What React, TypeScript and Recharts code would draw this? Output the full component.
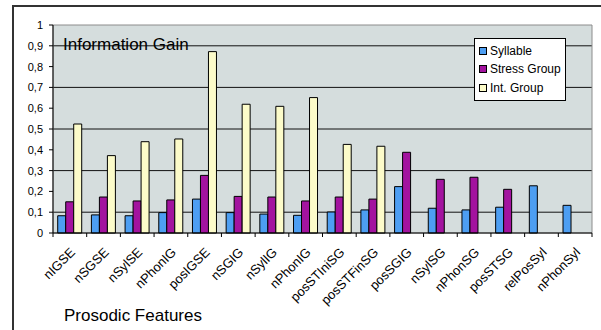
import { BarChart, Bar, XAxis, YAxis, CartesianGrid, Legend, ReferenceArea } from "recharts"

const features = [
    "nIGSE", "nSGSE", "nSylSE", "nPhonIG", "posIGSE", "nSGIG", "nSylIG", "nPhonIG",
    "posSTIniSG", "posSTFinSG", "posSGIG", "nSylSG", "nPhonSG", "posSTSG", "relPosSyl", "nPhonSyl",
]

const syllable = [0.083, 0.087, 0.083, 0.098, 0.163, 0.098, 0.091, 0.085, 0.101, 0.111, 0.223, 0.119, 0.111, 0.124, 0.227, 0.133]
const stressGroup = [0.15, 0.173, 0.154, 0.159, 0.277, 0.176, 0.173, 0.154, 0.173, 0.163, 0.388, 0.258, 0.268, 0.21, null, null]
const intGroup = [0.524, 0.372, 0.439, 0.452, 0.872, 0.619, 0.609, 0.651, 0.426, 0.417, null, null, null, null, null, null]

const yTicks = [0, 0.1, 0.2, 0.3, 0.4, 0.5, 0.6, 0.7, 0.8, 0.9, 1]

const series = [
    { key: "syllable", name: "Syllable", color: "#4d9ef2" },
    { key: "stress", name: "Stress Group", color: "#a3139f" },
    { key: "int", name: "Int. Group", color: "#fcfbc9" },
]

const data = features.map((f, i) => ({
    feature: f,
    syllable: syllable[i],
    stress: stressGroup[i],
    int: intGroup[i],
}))

const FONT = 'Arial, "Liberation Sans", sans-serif'
const W = 601
const H = 330
const PLOT_LEFT = 53
const PLOT_RIGHT = 592
const BAND = (PLOT_RIGHT - PLOT_LEFT) / features.length

const formatY = (v: number) => (v === 0 ? "0" : v === 1 ? "1" : v.toFixed(1).replace(".", ","))

// category boundary ticks + rotated label
const FeatureTick = ({ x, y, payload, index }: any) => {
    const last = index === features.length - 1
    const tx = x + 6
    const ty = y + 20
    return (
        <g>
            <line x1={x - BAND / 2} x2={x - BAND / 2} y1={y} y2={y + 4} stroke="#000" />
            {last && <line x1={x + BAND / 2} x2={x + BAND / 2} y1={y} y2={y + 4} stroke="#000" />}
            <text x={tx} y={ty} textAnchor="end" fontSize={13} fill="#000" fontFamily={FONT} transform={`rotate(-45, ${tx}, ${ty})`}>
                {payload.value}
            </text>
        </g>
    )
}

const LegendBox = () => (
    <div style={{ border: "1px solid #000", background: "#fff", padding: "3px 1px 3px 4px", width: 85, whiteSpace: "nowrap", fontFamily: FONT, fontSize: 12, color: "#000" }}>
        {series.map((s) => (
            <div key={s.key} style={{ display: "flex", alignItems: "center", height: 18.3 }}>
                <span style={{ display: "inline-block", flex: "none", width: 6, height: 6, border: "1px solid #000", background: s.color, marginRight: 3 }} />
                {s.name}
            </div>
        ))}
    </div>
)

export default function App() {
    return (
        <div style={{ position: "absolute", left: 0, top: 0, width: W, height: H, overflow: "hidden", background: "#fff" }}>
            <BarChart
                width={W}
                height={H}
                data={data}
                margin={{ top: 25, right: W - PLOT_RIGHT, left: 0, bottom: 0 }}
                barCategoryGap="14%"
                barGap={0}
                style={{ fontFamily: FONT }}
            >
                <CartesianGrid
                    vertical={false}
                    fill="#d5dddd"
                    fillOpacity={1}
                    stroke="#111"
                    horizontalValues={yTicks.slice(1, -1)}
                />
                <ReferenceArea y1={0} y2={1} fill="none" stroke="#8c8c8c" ifOverflow="visible" />
                <XAxis
                    dataKey="feature"
                    interval={0}
                    height={97}
                    tickLine={false}
                    tickSize={0}
                    tickMargin={0}
                    axisLine={{ stroke: "#000" }}
                    tick={<FeatureTick />}
                />
                <YAxis
                    width={PLOT_LEFT}
                    domain={[0, 1]}
                    ticks={yTicks}
                    tickFormatter={formatY}
                    tickSize={4}
                    tickMargin={6}
                    tickLine={{ stroke: "#000" }}
                    axisLine={{ stroke: "#000" }}
                    tick={{ fill: "#000", fontSize: 11, fontFamily: FONT }}
                />
                <Legend
                    layout="vertical"
                    align="center"
                    verticalAlign="middle"
                    content={<LegendBox />}
                    wrapperStyle={{ left: 474, top: 38, width: "auto", bottom: "auto", right: "auto" }}
                />
                {series.map((s) => (
                    <Bar key={s.key} dataKey={s.key} name={s.name} fill={s.color} stroke="#000" strokeWidth={1} isAnimationActive={false} />
                ))}
            </BarChart>
            <svg width={W} height={H} style={{ position: "absolute", left: 0, top: 0, pointerEvents: "none" }}>
                <path d={`M13 ${H + 2} V6 H${W + 2}`} fill="none" stroke="#333" strokeWidth={2} />
                <text x={63} y={50} fontSize={17} fontFamily={FONT} fill="#000">Information Gain</text>
                <text x={64} y={321} fontSize={17} fontFamily={FONT} fill="#000">Prosodic Features</text>
            </svg>
        </div>
    )
}
